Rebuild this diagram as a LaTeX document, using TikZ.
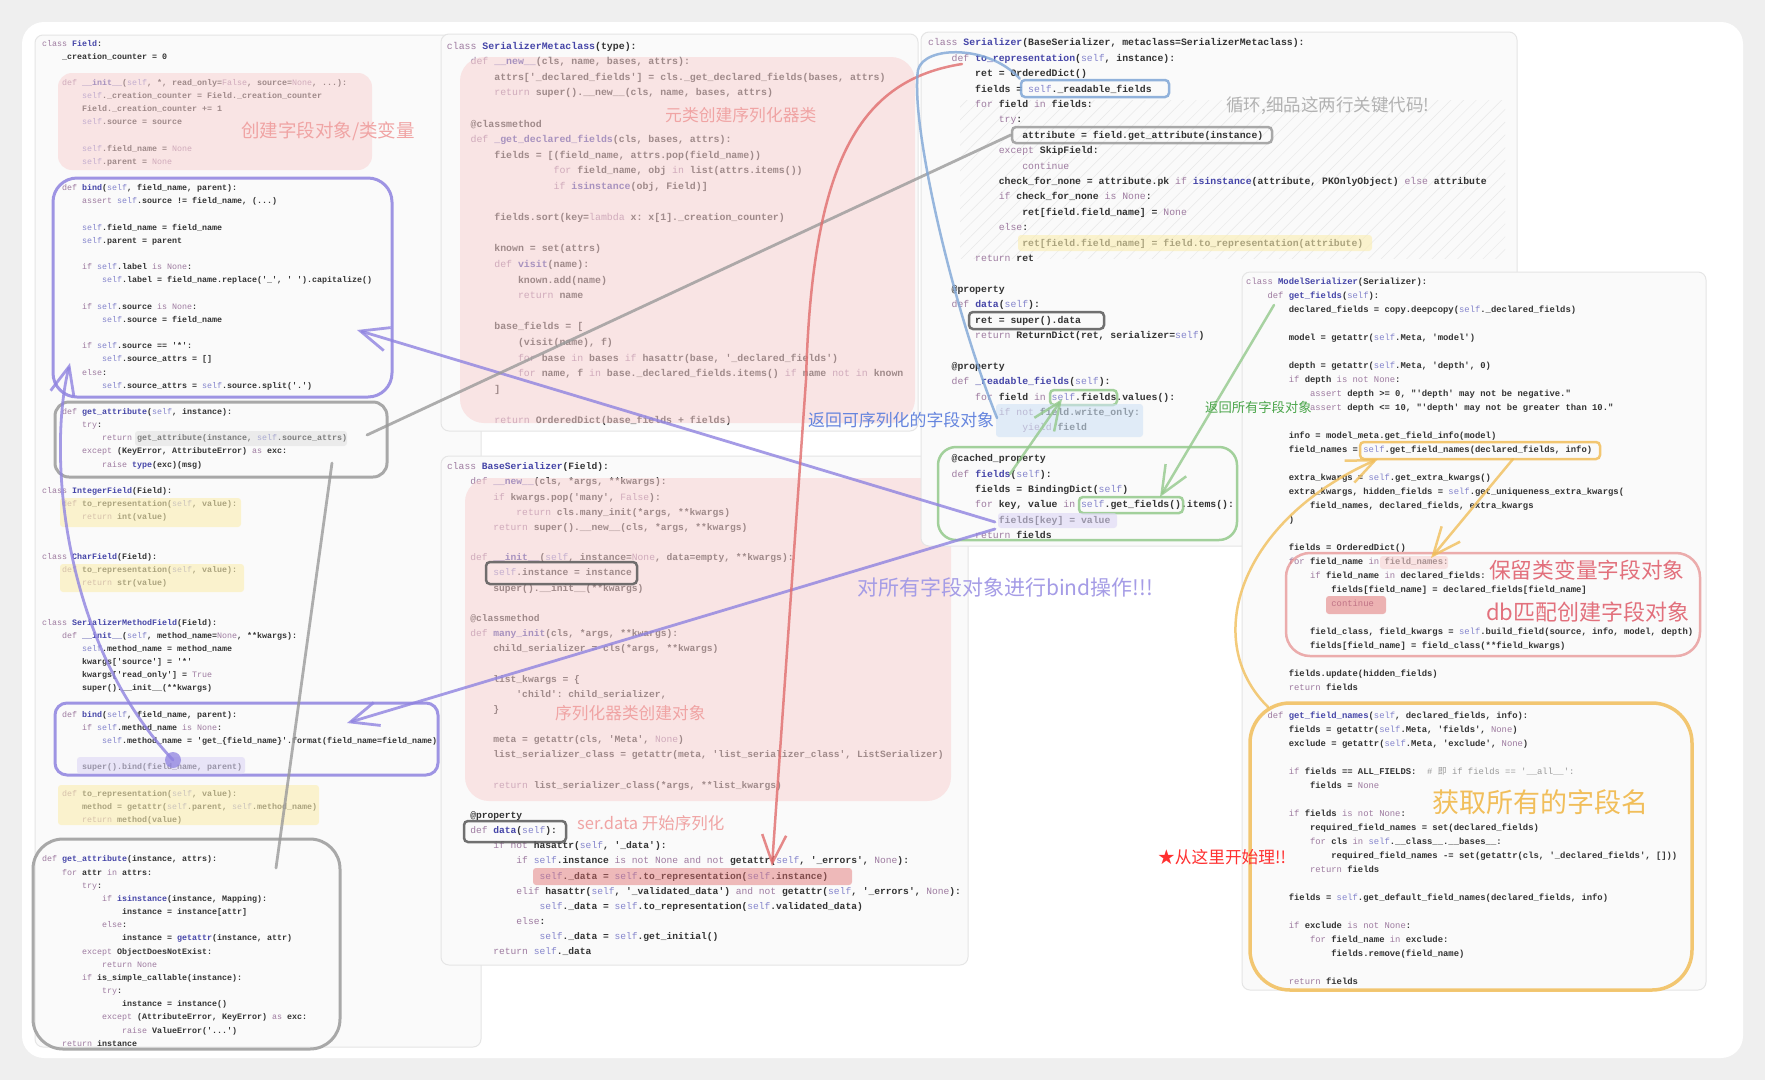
\documentclass[tikz,border=0pt]{standalone}
\usepackage{fontspec}
\setmainfont{Liberation Sans}
\setmonofont{Liberation Mono}
\newfontfamily\cjk{Noto Sans CJK SC}
\usetikzlibrary{arrows.meta, fit, patterns.meta}

\definecolor{pagec}{HTML}{EFEFEF}
\definecolor{panelc}{HTML}{FAFAFA}
\definecolor{codec}{HTML}{333333}
\definecolor{kwc}{HTML}{9E7BA0}
\definecolor{nmc}{HTML}{4545A8}
\definecolor{selfc}{HTML}{8585CC}
\definecolor{pinkc}{HTML}{F9D2D2}
\definecolor{yelc}{HTML}{FBEEB0}
\definecolor{purc}{HTML}{8F83E0}
\definecolor{grayc}{HTML}{9A9A9A}
\definecolor{greenc}{HTML}{93C98B}
\definecolor{orc}{HTML}{F1BE5A}
\definecolor{redc}{HTML}{E06C6C}
\definecolor{bluec}{HTML}{7FA6D6}
\definecolor{bluehl}{HTML}{CFE2F6}
\definecolor{lavhl}{HTML}{DDD6F6}
\definecolor{pinktx}{HTML}{F0A4A4}
\definecolor{keeptx}{HTML}{E2707C}

\newcommand\codesize[2]{\ttfamily\bfseries\fontsize{#1}{#2}\selectfont}
\newcommand\cjksize[1]{\cjk\fontsize{#1}{#1}\selectfont}
\newcommand\idt[1]{\hspace*{#1\dimexpr2.4em\relax}}
\newcommand\kw[1]{\textcolor{kwc}{\mdseries#1}}
\newcommand\nm[1]{\textcolor{nmc}{#1}}
\newcommand\slf{\textcolor{selfc}{\mdseries self}}

\tikzset{
  panel/.style={rounded corners=8pt, fill=panelc, draw=black!10, line width=1pt, inner sep=0pt},
  code/.style={anchor=north west, align=left, inner sep=0pt, text=codec},
  pinkhl/.style={fill=pinkc, fill opacity=0.55, rounded corners=24pt, inner sep=0pt},
  yelhl/.style={fill=yelc, fill opacity=0.6, rounded corners=3pt, inner sep=0pt},
  grayhl/.style={fill=black!15, fill opacity=0.45, rounded corners=3pt, inner sep=0pt},
  frame/.style={draw=#1, line width=2.5pt, draw opacity=0.85, rounded corners=4pt, inner sep=0pt},
  lbl/.style={anchor=west, inner sep=0pt},
  barb/.style={-{Straight Barb[length=28pt, width=24pt]}},
  stroke/.style={draw=#1, line width=2.8pt, draw opacity=0.8, line cap=round}
}

\begin{document}
\catcode`\_=12
\begin{tikzpicture}[x=1pt, y=-1pt]
\useasboundingbox (0,0) rectangle (1765,1080);
\fill[pagec] (0,0) rectangle (1765,1080);
\fill[white, rounded corners=22pt] (22,22) rectangle (1743,1058);

% Field panel
\node[panel, fit={(35,35) (481,1047)}] (pField) {};
\node[code, font=\codesize{8.33}{13.16}] (cField) at (42,36.6) {\strut\kw{class} \nm{Field}:\\
\idt{1}_creation_counter = 0\\
\\
\idt{1}\kw{def} \nm{__init__}(\slf, *, read_only=\kw{False}, source=\kw{None}, ...):\\
\idt{2}\slf._creation_counter = Field._creation_counter\\
\idt{2}Field._creation_counter += 1\\
\idt{2}\slf.source = source\\
\\
\idt{2}\slf.field_name = \kw{None}\\
\idt{2}\slf.parent = \kw{None}\\
\\
\idt{1}\kw{def} \nm{bind}(\slf, field_name, parent):\\
\idt{2}\kw{assert} \slf.source != field_name, (...)\\
\\
\idt{2}\slf.field_name = field_name\\
\idt{2}\slf.parent = parent\\
\\
\idt{2}\kw{if} \slf.label \kw{is} \kw{None}:\\
\idt{3}\slf.label = field_name.replace('_', ' ').capitalize()\\
\\
\idt{2}\kw{if} \slf.source \kw{is} \kw{None}:\\
\idt{3}\slf.source = field_name\\
\\
\idt{2}\kw{if} \slf.source == '*':\\
\idt{3}\slf.source_attrs = []\\
\idt{2}\kw{else}:\\
\idt{3}\slf.source_attrs = \slf.source.split('.')\\
\\
\idt{1}\kw{def} \nm{get_attribute}(\slf, instance):\\
\idt{2}\kw{try}:\\
\idt{3}\kw{return} get_attribute(instance, \slf.source_attrs)\\
\idt{2}\kw{except} (KeyError, AttributeError) \kw{as} exc:\\
\idt{3}\kw{raise} \nm{type}(exc)(msg)\\
\\
\kw{class} \nm{IntegerField}(Field):\\
\idt{1}\kw{def} to_representation(\slf, value):\\
\idt{2}\kw{return} int(value)\\
\\
\\
\kw{class} \nm{CharField}(Field):\\
\idt{1}\kw{def} to_representation(\slf, value):\\
\idt{2}\kw{return} str(value)\\
\\
\\
\kw{class} \nm{SerializerMethodField}(Field):\\
\idt{1}\kw{def} \nm{__init__}(\slf, method_name=\kw{None}, **kwargs):\\
\idt{2}\slf.method_name = method_name\\
\idt{2}kwargs['source'] = '*'\\
\idt{2}kwargs['read_only'] = \kw{True}\\
\idt{2}super().__init__(**kwargs)\\
\\
\idt{1}\kw{def} \nm{bind}(\slf, field_name, parent):\\
\idt{2}\kw{if} \slf.method_name \kw{is} \kw{None}:\\
\idt{3}\slf.method_name = 'get_\{field_name\}'.format(field_name=field_name)\\
\\
\idt{2}super().bind(field_name, parent)\\
\\
\idt{1}\kw{def} to_representation(\slf, value):\\
\idt{2}method = getattr(\slf.parent, \slf.method_name)\\
\idt{2}\kw{return} method(value)\\
\\
\\
\kw{def} \nm{get_attribute}(instance, attrs):\\
\idt{1}\kw{for} attr \kw{in} attrs:\\
\idt{2}\kw{try}:\\
\idt{3}\kw{if} \nm{isinstance}(instance, Mapping):\\
\idt{4}instance = instance[attr]\\
\idt{3}\kw{else}:\\
\idt{4}instance = \nm{getattr}(instance, attr)\\
\idt{2}\kw{except} ObjectDoesNotExist:\\
\idt{3}\kw{return} \kw{None}\\
\idt{2}\kw{if} is_simple_callable(instance):\\
\idt{3}\kw{try}:\\
\idt{4}instance = instance()\\
\idt{3}\kw{except} (AttributeError, KeyError) \kw{as} exc:\\
\idt{4}\kw{raise} ValueError('...')\\
\idt{1}\kw{return} instance};
\node[pinkhl, rounded corners=14pt, fit={(58,73) (372,170)}] (hInit) {};
\node[frame=purc, line width=3pt, rounded corners=24pt, fit={(53,178) (392,397)}] (bindA) {};
\node[frame=grayc, line width=3pt, rounded corners=14pt, fit={(55,402) (387,477)}] (getA) {};
\node[grayhl, fit={(135,431) (347,446)}] (hSrc) {};
\node[yelhl, fit={(60,498) (241,527)}] (hInt) {};
\node[yelhl, fit={(60,564) (244,592)}] (hChar) {};
\node[frame=purc, line width=3pt, rounded corners=12pt, fit={(55,703) (438,775)}] (bindB) {};
\node[yelhl, fill=lavhl, fit={(77,757) (245,774)}] (hSuper) {};
\node[yelhl, fit={(58,785) (319,825)}] (hMethod) {};
\node[frame=grayc, line width=3pt, rounded corners=30pt, fit={(33,839) (340,1049)}] (getB) {};
\node[lbl, text=pinktx, font=\cjksize{18.5}] (lbInit) at (241,131) {创建字段对象/类变量};

% SerializerMetaclass panel
\node[panel, fit={(441,34) (918,431)}] (pMeta) {};
\node[code, font=\codesize{9.88}{15.6}] (cMeta) at (446.7,38) {\strut\kw{class} \nm{SerializerMetaclass}(type):\\
\idt{1}\kw{def} \nm{__new__}(cls, name, bases, attrs):\\
\idt{2}attrs['_declared_fields'] = cls._get_declared_fields(bases, attrs)\\
\idt{2}\kw{return} super().__new__(cls, name, bases, attrs)\\
\\
\idt{1}@classmethod\\
\idt{1}\kw{def} \nm{_get_declared_fields}(cls, bases, attrs):\\
\idt{2}fields = [(field_name, attrs.pop(field_name))\\
\idt{4.5}\kw{for} field_name, obj \kw{in} list(attrs.items())\\
\idt{4.5}\kw{if} \nm{isinstance}(obj, Field)]\\
\\
\idt{2}fields.sort(key=\kw{lambda} x: x[1]._creation_counter)\\
\\
\idt{2}known = set(attrs)\\
\idt{2}\kw{def} \nm{visit}(name):\\
\idt{3}known.add(name)\\
\idt{3}\kw{return} name\\
\\
\idt{2}base_fields = [\\
\idt{3}(visit(name), f)\\
\idt{3}\kw{for} base \kw{in} bases \kw{if} hasattr(base, '_declared_fields')\\
\idt{3}\kw{for} name, f \kw{in} base._declared_fields.items() \kw{if} name \kw{not in} known\\
\idt{2}]\\
\\
\idt{2}\kw{return} OrderedDict(base_fields + fields)};
\node[pinkhl, fit={(460,57) (915,423)}] (hMeta) {};
\node[lbl, text=pinktx, font=\cjksize{16.8}] (lbMeta) at (665,115) {元类创建序列化器类};

% BaseSerializer panel
\node[panel, fit={(441,456) (968,965)}] (pBase) {};
\node[code, font=\codesize{9.62}{15.16}] (cBase) at (447,459) {\strut\kw{class} \nm{BaseSerializer}(Field):\\
\idt{1}\kw{def} \nm{__new__}(cls, *args, **kwargs):\\
\idt{2}\kw{if} kwargs.pop('many', \kw{False}):\\
\idt{3}\kw{return} cls.many_init(*args, **kwargs)\\
\idt{2}\kw{return} super().__new__(cls, *args, **kwargs)\\
\\
\idt{1}\kw{def} \nm{__init__}(\slf, instance=\kw{None}, data=empty, **kwargs):\\
\idt{2}\slf.instance = instance\\
\idt{2}super().__init__(**kwargs)\\
\\
\idt{1}@classmethod\\
\idt{1}\kw{def} \nm{many_init}(cls, *args, **kwargs):\\
\idt{2}child_serializer = cls(*args, **kwargs)\\
\\
\idt{2}list_kwargs = \{\\
\idt{3}'child': child_serializer,\\
\idt{2}\}\\
\\
\idt{2}meta = getattr(cls, 'Meta', \kw{None})\\
\idt{2}list_serializer_class = getattr(meta, 'list_serializer_class', ListSerializer)\\
\\
\idt{2}\kw{return} list_serializer_class(*args, **list_kwargs)\\
\\
\idt{1}@property\\
\idt{1}\kw{def} \nm{data}(\slf):\\
\idt{2}\kw{if not} hasattr(\slf, '_data'):\\
\idt{3}\kw{if} \slf.instance \kw{is not None and not} getattr(\slf, '_errors', \kw{None}):\\
\idt{4}\slf._data = \slf.to_representation(\slf.instance)\\
\idt{3}\kw{elif} hasattr(\slf, '_validated_data') \kw{and not} getattr(\slf, '_errors', \kw{None}):\\
\idt{4}\slf._data = \slf.to_representation(\slf.validated_data)\\
\idt{3}\kw{else}:\\
\idt{4}\slf._data = \slf.get_initial()\\
\idt{2}\kw{return} \slf._data};
\node[pinkhl, fit={(465,478) (951,801)}] (hBase) {};
\node[frame=black!65, fit={(486,562) (637,584)}] (instBox) {};
\node[frame=black!65, fit={(464,821) (566,842)}] (dataBox) {};
\node[yelhl, fill=redc, fill opacity=0.45, fit={(533,868) (852,885)}] (hData) {};
\node[lbl, text=pinktx, font=\cjksize{16.7}] (lbObj) at (555,713) {序列化器类创建对象};
\node[lbl, text=pinktx, font=\cjksize{16.5}] (lbData) at (577,823) {ser.data 开始序列化};

% Serializer panel
\node[panel, fit={(921,32) (1517,546)}] (pSer) {};
\fill[pattern={Lines[angle=45, distance=9pt, line width=0.5pt]}, pattern color=black!9] (960,100) rectangle (1505,258);
\node[code, font=\codesize{9.8}{15.4}] (cSer) at (928,35) {\strut\kw{class} \nm{Serializer}(BaseSerializer, metaclass=SerializerMetaclass):\\
\idt{1}\kw{def} \nm{to_representation}(\slf, instance):\\
\idt{2}ret = OrderedDict()\\
\idt{2}fields = \slf._readable_fields\\
\idt{2}\kw{for} field \kw{in} fields:\\
\idt{3}\kw{try}:\\
\idt{4}attribute = field.get_attribute(instance)\\
\idt{3}\kw{except} SkipField:\\
\idt{4}\kw{continue}\\
\idt{3}check_for_none = attribute.pk \kw{if} \nm{isinstance}(attribute, PKOnlyObject) \kw{else} attribute\\
\idt{3}\kw{if} check_for_none \kw{is} \kw{None}:\\
\idt{4}ret[field.field_name] = \kw{None}\\
\idt{3}\kw{else}:\\
\idt{4}ret[field.field_name] = field.to_representation(attribute)\\
\idt{2}\kw{return} ret\\
\\
\idt{1}@property\\
\idt{1}\kw{def} \nm{data}(\slf):\\
\idt{2}ret = super().data\\
\idt{2}\kw{return} ReturnDict(ret, serializer=\slf)\\
\\
\idt{1}@property\\
\idt{1}\kw{def} \nm{_readable_fields}(\slf):\\
\idt{2}\kw{for} field \kw{in} \slf.fields.values():\\
\idt{3}\kw{if not} field.write_only:\\
\idt{4}\kw{yield} field\\
\\
\idt{1}@cached_property\\
\idt{1}\kw{def} \nm{fields}(\slf):\\
\idt{2}fields = BindingDict(\slf)\\
\idt{2}\kw{for} key, value \kw{in} \slf.get_fields().items():\\
\idt{3}fields[key] = value\\
\idt{2}\kw{return} fields};
\node[frame=bluec, fit={(1021,80) (1169,97)}] (readBox) {};
\node[frame=grayc, fit={(1012,127) (1272,143)}] (attrBox) {};
\node[yelhl, fit={(1018,235) (1372,251)}] (hRet) {};
\node[frame=black!65, fit={(969,312) (1104,329)}] (superBox) {};
\node[frame=greenc, fit={(1050,390) (1117,405)}] (sfBox) {};
\node[yelhl, fill=bluehl, fit={(996,404) (1143,437)}] (hYield) {};
\node[frame=greenc, rounded corners=18pt, fit={(938,447) (1237,540)}] (cachedBox) {};
\node[frame=greenc, fit={(1079,497) (1183,513)}] (getfBox) {};
\node[yelhl, fill=lavhl, fit={(998,513) (1117,528)}] (hKey) {};
\node[lbl, text=black!30, font=\cjksize{17.5}] (lbLoop) at (1226,106) {循环,细品这两行关键代码!};

% ModelSerializer panel
\node[panel, fit={(1242,272) (1706,990)}] (pModel) {};
\node[code, font=\codesize{8.87}{14}] (cModel) at (1246,274.3) {\strut\kw{class} \nm{ModelSerializer}(Serializer):\\
\idt{1}\kw{def} \nm{get_fields}(\slf):\\
\idt{2}declared_fields = copy.deepcopy(\slf._declared_fields)\\
\\
\idt{2}model = getattr(\slf.Meta, 'model')\\
\\
\idt{2}depth = getattr(\slf.Meta, 'depth', 0)\\
\idt{2}\kw{if} depth \kw{is not None}:\\
\idt{3}\kw{assert} depth >= 0, "'depth' may not be negative."\\
\idt{3}\kw{assert} depth <= 10, "'depth' may not be greater than 10."\\
\\
\idt{2}info = model_meta.get_field_info(model)\\
\idt{2}field_names = \slf.get_field_names(declared_fields, info)\\
\\
\idt{2}extra_kwargs = \slf.get_extra_kwargs()\\
\idt{2}extra_kwargs, hidden_fields = \slf.get_uniqueness_extra_kwargs(\\
\idt{3}field_names, declared_fields, extra_kwargs\\
\idt{2})\\
\\
\idt{2}fields = OrderedDict()\\
\idt{2}\kw{for} field_name \kw{in} field_names:\\
\idt{3}\kw{if} field_name \kw{in} declared_fields:\\
\idt{4}fields[field_name] = declared_fields[field_name]\\
\idt{4}\kw{continue}\\
\\
\idt{3}field_class, field_kwargs = \slf.build_field(source, info, model, depth)\\
\idt{3}fields[field_name] = field_class(**field_kwargs)\\
\\
\idt{2}fields.update(hidden_fields)\\
\idt{2}\kw{return} fields\\
\\
\idt{1}\kw{def} \nm{get_field_names}(\slf, declared_fields, info):\\
\idt{2}fields = getattr(\slf.Meta, 'fields', \kw{None})\\
\idt{2}exclude = getattr(\slf.Meta, 'exclude', \kw{None})\\
\\
\idt{2}\kw{if} fields == ALL_FIELDS:\ \ \textcolor{black!40}{\mdseries\# {\cjk 即} if fields == '__all__':}\\
\idt{3}fields = \kw{None}\\
\\
\idt{2}\kw{if} fields \kw{is not None}:\\
\idt{3}required_field_names = set(declared_fields)\\
\idt{3}\kw{for} cls \kw{in} \slf.__class__.__bases__:\\
\idt{4}required_field_names -= set(getattr(cls, '_declared_fields', []))\\
\idt{3}\kw{return} fields\\
\\
\idt{2}fields = \slf.get_default_field_names(declared_fields, info)\\
\\
\idt{2}\kw{if} exclude \kw{is not None}:\\
\idt{3}\kw{for} field_name \kw{in} exclude:\\
\idt{4}fields.remove(field_name)\\
\\
\idt{2}\kw{return} fields};
\node[frame=orc, fit={(1360,442) (1600,459)}] (fnBox) {};
\node[yelhl, fill=pinkc, fit={(1380,556) (1448,569)}] (hFn) {};
\node[yelhl, fill=redc, fill opacity=0.5, fit={(1326,596) (1386,614)}] (hCont) {};
\node[frame=redc, draw opacity=0.55, rounded corners=24pt, fit={(1286,553) (1700,656)}] (forBox) {};
\node[frame=orc, line width=3.5pt, rounded corners=40pt, fit={(1250,703) (1692,990)}] (namesBox) {};
\node[lbl, text=keeptx, font=\cjksize{21.7}] (lbKeep) at (1489,570) {保留类变量字段对象};
\node[lbl, text=keeptx, font=\cjksize{22}] (lbDb) at (1486,612) {db匹配创建字段对象};
\node[lbl, text=orc, font=\cjksize{27}] (lbNames) at (1432,802) {获取所有的字段名};
\node[lbl, text=red!75!pink, font=\cjksize{16.7}] (lbStart) at (1158,857) {★从这里开始理!!};

% connector ends
\coordinate (keyA) at (995,522);
\coordinate (keyB) at (995,529);
\coordinate (bindTipA) at (357,330);
\coordinate (bindTipB) at (347,723);
\coordinate (bindTipC) at (70,363);
\coordinate (srcEnd) at (367,435);
\coordinate (getA0) at (332,463);
\coordinate (getB0) at (276,868);
\coordinate (toRep) at (962,64);
\coordinate (dataTip) at (772,866);
\coordinate (retEnd) at (997,418);
\coordinate (gfDef) at (1274,305);
\coordinate (gfTip) at (1160,497);
\coordinate (fDef) at (1010,474);
\coordinate (sfTip) at (1062,399);
\coordinate (fnTail) at (1513,459);
\coordinate (forTip) at (1431,558);
\coordinate (namesDef) at (1268,707);
\coordinate (fnTip) at (1378,459);

% connectors
\fill[purc, opacity=0.75] (173,760) circle (8pt) coordinate (dot);
\draw[stroke=purc, barb] (keyA) -- (bindTipA);
\draw[stroke=purc, barb] (keyB) -- (bindTipB);
\draw[stroke=purc, barb] (dot) .. controls (60,640) and (48,450) .. (bindTipC);
\draw[stroke=grayc] (attrBox.west) -- (srcEnd);
\draw[stroke=grayc] (getA0) -- (getB0);
\draw[stroke=redc, line width=2.5pt, barb] (toRep) .. controls (860,80) and (812,160) .. (806,380) -- (dataTip);
\draw[stroke=bluec, line width=2.5pt] (retEnd) .. controls (950,300) and (910,120) .. (918,70) .. controls (924,45) and (990,45) .. (readBox.north west);
\draw[stroke=greenc, line width=2.5pt, barb] (gfDef) -- (gfTip);
\draw[stroke=greenc, line width=2.5pt, barb] (fDef) -- (sfTip);
\draw[stroke=orc, line width=2.5pt, barb] (fnTail) -- (forTip);
\draw[stroke=orc, line width=2.5pt, barb] (namesDef) .. controls (1200,640) and (1240,520) .. (fnTip);

% labels over connectors
\node[lbl, text=bluec!80!blue, font=\cjksize{16.9}] (lbReturn) at (808,420) {返回可序列化的字段对象};
\node[lbl, text=purc!80, font=\cjksize{21}] (lbBind) at (857,587) {对所有字段对象进行bind操作!!!};
\node[lbl, text=green!50!black!70, font=\cjksize{13.3}] (lbAll) at (1205,407) {返回所有字段对象};
\end{tikzpicture}
\end{document}
